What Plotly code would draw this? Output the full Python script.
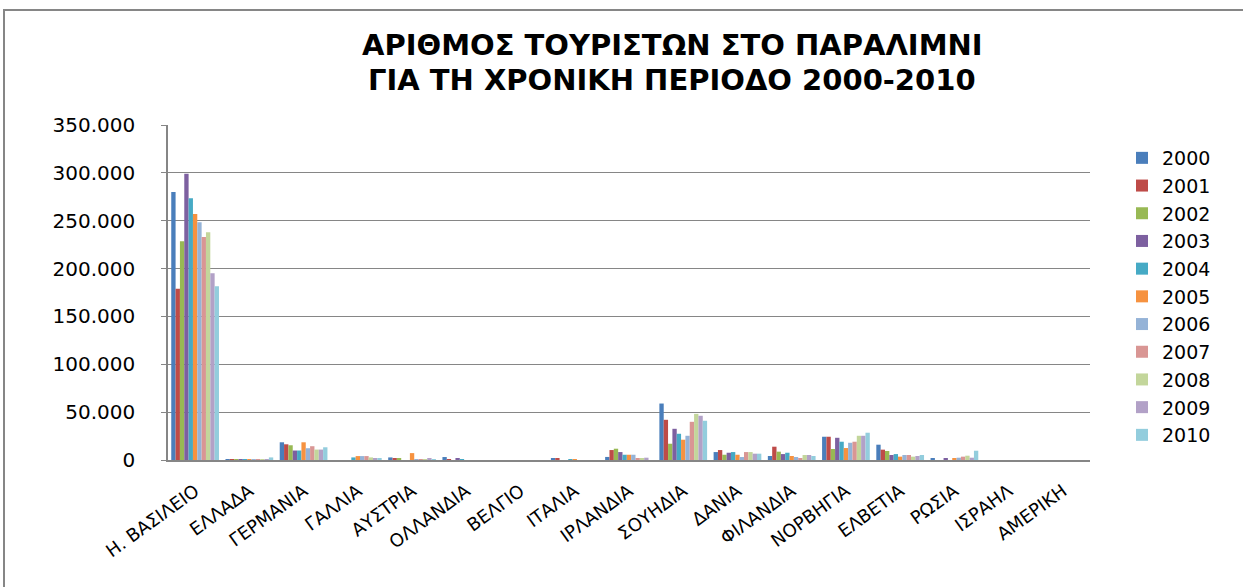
import plotly.graph_objects as go

countries = ["Η. ΒΑΣΙΛΕΙΟ", "ΕΛΛΑΔΑ", "ΓΕΡΜΑΝΙΑ", "ΓΑΛΛΙΑ", "ΑΥΣΤΡΙΑ", "ΟΛΛΑΝΔΙΑ", "ΒΕΛΓΙΟ",
             "ΙΤΑΛΙΑ", "ΙΡΛΑΝΔΙΑ", "ΣΟΥΗΔΙΑ", "ΔΑΝΙΑ", "ΦΙΛΑΝΔΙΑ", "ΝΟΡΒΗΓΙΑ", "ΕΛΒΕΤΙΑ",
             "ΡΩΣΙΑ", "ΙΣΡΑΗΛ", "ΑΜΕΡΙΚΗ"]

years = ["2000", "2001", "2002", "2003", "2004", "2005", "2006", "2007", "2008", "2009", "2010"]

# values per year, in order of countries
y2000 = [280000, 1000, 18500, 0, 2700, 3100, 0, 2000, 3200, 59000, 8300, 4200, 24300, 16000, 1400, 0, 0]
y2001 = [179000, 1000, 16400, 0, 1700, 1000, 0, 2000, 10400, 42000, 10400, 13900, 24300, 10800, 0, 0, 0]
y2002 = [228500, 1000, 15400, 0, 1700, 0, 0, 0, 11800, 17000, 5500, 8700, 11500, 9400, 0, 0, 0]
y2003 = [299000, 1000, 9900, 0, 0, 2000, 0, 0, 8300, 32600, 7600, 6200, 23200, 5200, 1400, 0, 0]
y2004 = [273500, 500, 9900, 2700, 0, 1000, 0, 1000, 5500, 27400, 8300, 7600, 19100, 6200, 0, 0, 0]
y2005 = [257000, 1000, 18500, 4100, 7200, 0, 0, 1000, 5500, 21200, 5500, 4200, 12500, 3500, 1400, 0, 0]
y2006 = [248500, 1000, 12300, 4100, 1000, 0, 0, 0, 5500, 25300, 3100, 3100, 18000, 5200, 2400, 0, 0]
y2007 = [233000, 1000, 14400, 4100, 1000, 0, 0, 0, 1400, 39900, 8300, 2100, 19100, 5200, 3500, 0, 0]
y2008 = [238000, 1000, 10900, 2700, 1000, 0, 0, 0, 1400, 48200, 8300, 5200, 25300, 3500, 4500, 0, 0]
y2009 = [195000, 1000, 10900, 2000, 2000, 0, 0, 0, 2400, 46200, 6600, 5200, 25300, 4200, 2400, 0, 0]
y2010 = [181500, 2700, 13300, 2000, 1000, 0, 0, 0, 0, 41000, 6600, 4200, 28500, 5200, 9700, 0, 0]

series = [y2000, y2001, y2002, y2003, y2004, y2005, y2006, y2007, y2008, y2009, y2010]

colors = ["#4A7EBB", "#BE4B48", "#98B954", "#7D60A0", "#46AAC5", "#F69240",
          "#95B3D7", "#D99694", "#C3D69B", "#B2A1C7", "#93CDDD"]

tick_vals = [0, 50000, 100000, 150000, 200000, 250000, 300000, 350000]

title_lines = ["ΑΡΙΘΜΟΣ ΤΟΥΡΙΣΤΩΝ ΣΤΟ ΠΑΡΑΛΙΜΝΙ", "ΓΙΑ ΤΗ ΧΡΟΝΙΚΗ ΠΕΡΙΟΔΟ 2000-2010"]

FONT = "DejaVu Sans, Noto Sans, sans-serif"

fig = go.Figure()
for yr, vals, col in zip(years, series, colors):
    fig.add_trace(go.Bar(name=yr, x=countries, y=vals, marker_color=col,
                         marker_line_width=0, legendgroup=yr))

W, H = 1243, 587
L, R, T, B = 168, 153, 125, 127
pw = W - L - R
ph = H - T - B

def px_x(x):
    return (x - L) / pw

def px_y(y):
    return (H - B - y) / ph

annotations = []
for line, yc in zip(title_lines, [45, 80]):
    annotations.append(dict(
        text=line, xref="paper", yref="paper",
        x=px_x(672), xanchor="center", y=px_y(yc), yanchor="middle",
        showarrow=False,
        font=dict(size=29, family=FONT, color="black", weight="bold"),
    ))

fig.update_layout(
    width=W, height=H,
    margin=dict(l=L, r=R, t=T, b=B, autoexpand=False),
    barmode="group",
    bargap=0.12,
    bargroupgap=0,
    paper_bgcolor="white",
    plot_bgcolor="white",
    separators=",.",
    font=dict(family=FONT, color="black"),
    annotations=annotations,
    legend=dict(
        x=px_x(1122), xanchor="left",
        y=px_y(139), yanchor="top",
        font=dict(size=19, color="black", family=FONT),
        tracegroupgap=3.6,
        bgcolor="rgba(0,0,0,0)",
        traceorder="normal",
    ),
    xaxis=dict(
        tickangle=-36,
        tickfont=dict(size=18, color="black", family=FONT),
        showgrid=False,
        showline=True, linecolor="#868686", linewidth=1.5,
        ticks="",
        ticklabelstandoff=12,
    ),
    yaxis=dict(
        range=[0, 350000],
        tickvals=tick_vals,
        tickformat=",.0f",
        tickfont=dict(size=20, color="black", family=FONT),
        showgrid=True, gridcolor="#868686", gridwidth=1.2,
        showline=True, linecolor="#868686", linewidth=1.5,
        ticks="outside", ticklen=5, tickcolor="#868686",
        ticklabelstandoff=22,
        zeroline=False,
    ),
    shapes=[dict(type="rect", xref="paper", yref="paper",
                 x0=px_x(4), x1=px_x(1400), y0=px_y(700), y1=px_y(10),
                 line=dict(color="#868686", width=2), fillcolor="rgba(0,0,0,0)",
                 layer="below")],
)

fig.write_html("out.html", config={"displayModeBar": False},
               post_script="document.body.style.margin='0px';")
